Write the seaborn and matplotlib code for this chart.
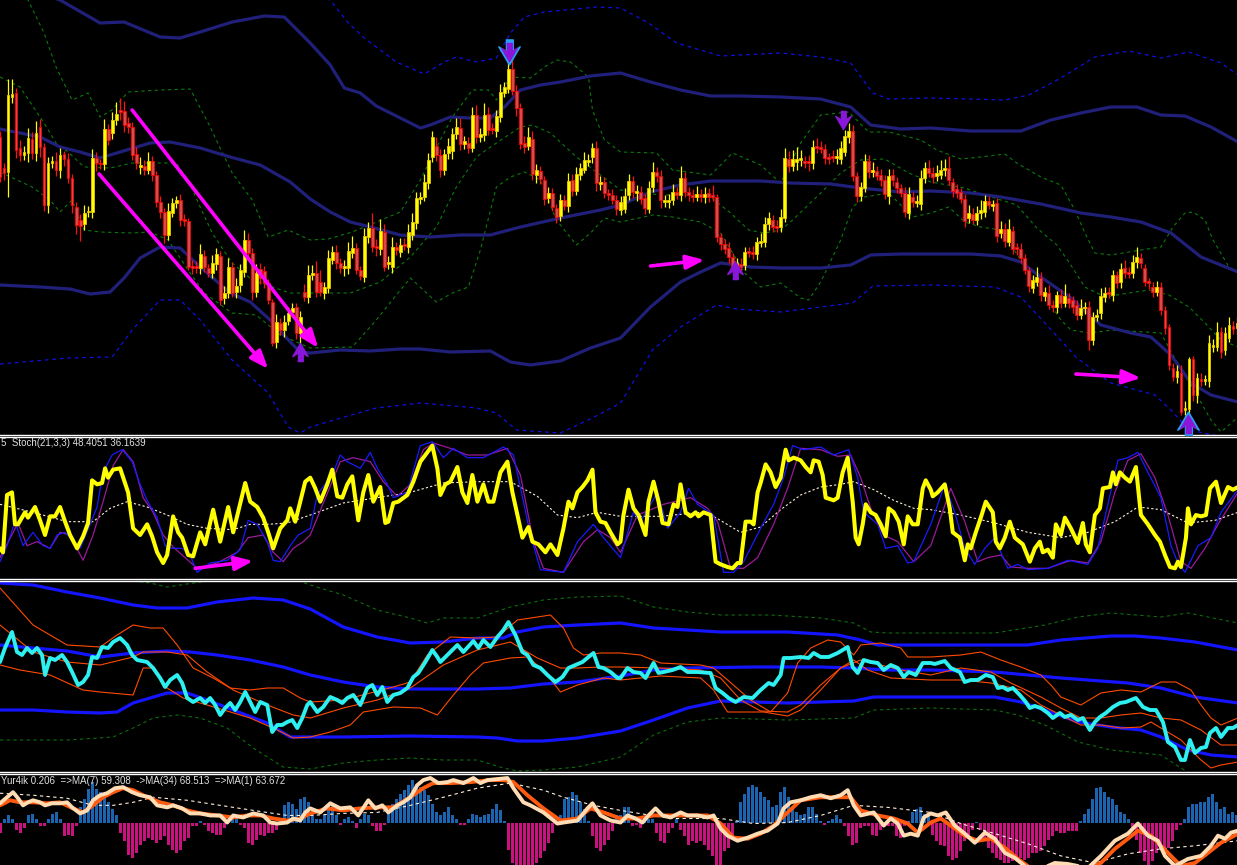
import numpy as np
import matplotlib
matplotlib.use("Agg")
import matplotlib.pyplot as plt
import seaborn as sns

# ---------------- price bars ----------------
# price given as points below the window top (bigger = lower on chart)
opens = [
    137, 168, 172, 97, 93, 148, 155, 153, 139, 153,
    127, 147, 205, 163, 161, 170, 154, 159, 178, 207,
    220, 224, 212, 212, 158, 163, 164, 129, 133, 120,
    110, 111, 123, 127, 154, 167, 166, 170, 161, 175,
    202, 212, 235, 213, 203, 200, 219, 221, 266, 266,
    268, 256, 268, 273, 264, 256, 298, 293, 267, 292,
    285, 272, 240, 253, 292, 269, 271, 283, 302, 342,
    323, 330, 321, 312, 307, 333, 292, 297, 275, 273,
    282, 293, 288, 260, 252, 263, 268, 268, 253, 248,
    270, 277, 237, 228, 246, 249, 232, 264, 267, 247,
    252, 244, 247, 235, 223, 199, 197, 183, 157, 146,
    155, 170, 153, 151, 134, 128, 144, 143, 148, 115,
    137, 135, 114, 128, 131, 117, 93, 89, 69, 91,
    108, 143, 146, 139, 175, 171, 180, 198, 193, 208,
    216, 200, 206, 180, 191, 175, 170, 162, 157, 148,
    184, 182, 193, 195, 200, 210, 209, 195, 181, 193,
    192, 198, 209, 187, 172, 176, 202, 202, 200, 192,
    195, 178, 192, 195, 197, 194, 197, 193, 195, 197,
    237, 244, 248, 257, 267, 264, 265, 251, 252, 254,
    243, 242, 224, 220, 226, 227, 218, 159, 166, 162,
    160, 161, 161, 163, 146, 147, 149, 157, 156, 158,
    159, 152, 137, 131, 176, 196, 188, 161, 172, 171,
    175, 180, 196, 175, 182, 188, 193, 213, 197, 203,
    204, 178, 168, 173, 176, 175, 170, 168, 182, 189,
    192, 199, 218, 214, 220, 213, 212, 201, 206, 203,
    233, 229, 242, 231, 247, 249, 258, 270, 288, 282,
    278, 296, 293, 305, 307, 295, 303, 298, 300, 305,
    315, 308, 307, 340, 317, 313, 297, 292, 295, 275,
    282, 268, 272, 273, 262, 258, 268, 281, 287, 292,
    287, 310, 327, 368, 377, 373, 410, 409, 359, 395,
    379, 381, 381, 347, 347, 332, 350, 338, 326, 328,
]
closes = [
    177, 173, 95, 94, 150, 155, 152, 138, 153, 133,
    147, 205, 163, 161, 170, 155, 159, 178, 205, 225,
    226, 213, 211, 158, 163, 164, 129, 140, 120, 114,
    112, 125, 127, 155, 163, 165, 170, 161, 175, 202,
    212, 235, 211, 203, 200, 220, 221, 267, 268, 268,
    254, 267, 273, 263, 254, 300, 293, 267, 293, 286,
    270, 240, 253, 292, 273, 278, 283, 300, 343, 322,
    330, 322, 313, 308, 333, 317, 297, 275, 273, 292,
    292, 287, 258, 252, 263, 268, 266, 251, 248, 270,
    276, 236, 228, 247, 248, 231, 267, 262, 247, 250,
    245, 246, 232, 222, 198, 197, 182, 160, 137, 155,
    170, 154, 146, 134, 127, 144, 141, 148, 115, 137,
    134, 115, 130, 130, 116, 92, 87, 69, 91, 108,
    144, 147, 137, 174, 170, 179, 199, 193, 207, 217,
    200, 206, 181, 191, 174, 168, 160, 160, 148, 183,
    182, 193, 195, 200, 209, 202, 196, 181, 192, 191,
    199, 208, 188, 172, 176, 200, 200, 200, 192, 195,
    178, 192, 195, 197, 194, 197, 194, 197, 197, 237,
    244, 249, 257, 267, 263, 267, 252, 253, 254, 242,
    241, 224, 218, 227, 228, 217, 158, 166, 159, 159,
    158, 163, 163, 147, 148, 149, 158, 159, 158, 156,
    148, 136, 131, 176, 196, 187, 161, 172, 170, 176,
    180, 194, 176, 180, 188, 193, 212, 194, 202, 201,
    178, 168, 173, 177, 173, 170, 168, 180, 191, 193,
    199, 221, 213, 220, 213, 210, 201, 205, 204, 236,
    229, 241, 229, 249, 249, 258, 270, 286, 280, 277,
    295, 292, 305, 307, 295, 303, 296, 303, 307, 315,
    308, 307, 340, 317, 315, 296, 293, 294, 275, 283,
    269, 273, 274, 262, 257, 263, 282, 283, 292, 287,
    310, 328, 365, 377, 371, 412, 408, 359, 395, 378,
    381, 379, 343, 345, 332, 352, 333, 325, 329, 323,
]
wick_up = [
    6, 5, 16, 15, 5, 8, 6, 10, 7, 12, 8, 4, 6, 5, 9, 7, 3, 6, 4, 5,
    6, 8, 5, 9, 6, 4, 10, 5, 8, 12, 12, 10, 6, 5, 7, 8, 6, 9, 5, 4,
    6, 4, 8, 5, 4, 6, 5, 3, 6, 5, 10, 6, 4, 8, 6, 5, 7, 9, 5, 8,
    6, 10, 7, 5, 9, 6, 5, 4, 3, 8, 5, 7, 6, 5, 4, 6, 8, 10, 8, 12,
    12, 5, 8, 6, 7, 5, 6, 9, 12, 5, 4, 8, 6, 15, 7, 12, 8, 6, 10, 5,
    7, 6, 8, 9, 6, 5, 8, 7, 6, 9, 6, 5, 8, 6, 9, 10, 5, 6, 8, 10,
    6, 12, 7, 5, 6, 8, 5, 12, 14, 6, 5, 7, 10, 8, 6, 5, 4, 6, 5, 4,
    6, 5, 8, 6, 7, 5, 8, 6, 5, 7, 6, 5, 4, 6, 5, 6, 8, 7, 5, 6,
    6, 4, 7, 10, 5, 6, 5, 6, 8, 5, 12, 6, 5, 6, 8, 5, 7, 5, 10, 3,
    4, 5, 6, 4, 5, 6, 5, 4, 6, 5, 8, 7, 6, 5, 6, 8, 10, 8, 9, 12,
    8, 5, 6, 7, 8, 6, 5, 4, 6, 7, 7, 6, 8, 6, 4, 5, 7, 6, 8, 5,
    6, 5, 7, 6, 5, 4, 6, 7, 5, 6, 8, 6, 8, 6, 8, 10, 9, 12, 4, 5,
    4, 5, 8, 6, 7, 10, 6, 5, 4, 5, 8, 6, 10, 5, 4, 6, 4, 3, 5, 10,
    6, 5, 8, 5, 4, 6, 12, 5, 4, 5, 9, 5, 6, 5, 6, 8, 6, 5, 5, 4,
    6, 8, 5, 7, 10, 5, 4, 3, 5, 6, 5, 4, 3, 5, 6, 8, 7, 2, 3, 5,
    6, 4, 8, 6, 10, 5, 6, 8, 5, 6,
]
wick_dn = [
    5, 7, 25, 6, 8, 6, 5, 9, 6, 8, 10, 6, 8, 5, 6, 8, 7, 5, 8, 9,
    15, 6, 5, 6, 8, 5, 6, 5, 6, 5, 8, 7, 6, 5, 6, 7, 5, 4, 6, 5,
    6, 8, 5, 4, 5, 6, 5, 3, 6, 5, 6, 5, 4, 5, 6, 5, 6, 5, 4, 6,
    7, 5, 6, 8, 5, 6, 5, 4, 3, 6, 5, 7, 4, 5, 6, 20, 4, 6, 5, 5,
    4, 6, 5, 4, 6, 5, 8, 6, 5, 4, 4, 5, 6, 5, 8, 6, 4, 5, 6, 5,
    5, 4, 6, 5, 6, 5, 4, 6, 5, 6, 7, 5, 6, 8, 5, 6, 5, 5, 4, 6,
    5, 6, 5, 4, 6, 5, 4, 4, 4, 8, 5, 6, 4, 6, 8, 5, 6, 5, 4, 6,
    5, 4, 6, 5, 4, 5, 3, 4, 6, 8, 6, 5, 5, 4, 6, 5, 4, 5, 6, 8,
    5, 6, 4, 5, 6, 8, 5, 6, 5, 4, 6, 5, 6, 5, 4, 5, 6, 5, 4, 5,
    6, 5, 6, 4, 5, 6, 5, 4, 5, 6, 4, 5, 6, 5, 4, 5, 4, 6, 5, 8,
    6, 5, 8, 6, 5, 4, 6, 5, 4, 6, 5, 4, 6, 5, 6, 5, 4, 6, 5, 4,
    6, 5, 8, 6, 5, 4, 5, 6, 5, 4, 6, 5, 4, 6, 5, 4, 6, 5, 6, 5,
    4, 6, 5, 4, 5, 6, 5, 4, 5, 6, 5, 6, 4, 5, 6, 5, 4, 6, 5, 4,
    6, 5, 4, 5, 6, 5, 4, 5, 6, 5, 4, 6, 10, 5, 4, 6, 5, 4, 6, 5,
    6, 5, 4, 5, 6, 5, 4, 6, 5, 4, 5, 6, 5, 4, 6, 3, 5, 14, 6, 8,
    5, 4, 6, 5, 4, 6, 5, 4, 5, 6,
]

# price channels: (bar, points below top)
band_up = [(0, -20), (7.5, -10), (15, 0), (25, 23), (31, 22), (40, 37), (45, 38), (50, 32), (58, 22), (66, 16),
           (71, 17), (77.5, 43), (82.5, 65), (86, 88), (90, 93), (94, 106), (100, 118), (105, 128), (107.5, 125),
           (112.5, 117), (117.5, 118), (122.5, 118), (126, 107), (130, 90), (135, 85), (140, 82), (147.5, 76),
           (155, 73), (162.5, 82), (170, 90), (177.5, 96), (185, 96), (195, 97), (205, 99), (212.5, 107),
           (217.5, 125), (225, 129), (232.5, 128), (242.5, 131), (255, 131), (262.5, 120), (270, 113),
           (277.5, 107), (284, 107), (290, 115), (296, 116), (302.5, 127), (309.25, 142)]
band_mid = [(0, 129), (10, 137), (15, 147), (20, 152), (25, 158), (30, 152), (37.5, 143), (42.5, 142), (50, 148),
            (57.5, 157), (65, 165), (72.5, 182), (77.5, 199), (82.5, 212), (87.5, 222), (92.5, 227), (100, 235),
            (107.5, 237), (115, 235), (122.5, 235), (130, 227), (140, 218), (150, 210), (155, 205), (162.5, 192),
            (170, 185), (177.5, 181), (190, 181), (197.5, 183), (207.5, 184), (215, 188), (225, 192), (232.5, 191),
            (242.5, 193), (250, 197), (260, 204), (270, 213), (277.5, 217), (285, 222), (292.5, 233), (300, 257),
            (309.25, 272)]
band_low = [(0, 285), (10, 287), (17.5, 289), (22.5, 294), (27.5, 292), (31, 278), (35, 258), (40, 247), (45, 248),
            (50, 267), (57.5, 293), (62.5, 302), (67.5, 320), (72.5, 342), (75, 352), (77.5, 353), (85, 350),
            (92.5, 351), (100, 349), (105, 349), (112.5, 352), (122.5, 351), (127.5, 362), (132.5, 365), (140, 361),
            (147.5, 348), (155, 338), (162.5, 307), (170, 282), (175, 272), (180, 263), (187.5, 267), (195, 268),
            (205, 268), (212.5, 265), (217.5, 255), (225, 254), (242.5, 254), (250, 256), (255, 262), (260, 277),
            (267.5, 298), (275, 325), (282.5, 333), (287.5, 337), (292.5, 355), (297.5, 383), (302.5, 395),
            (309.25, 402)]
dev_up = [(0, -30), (50, -20), (75, -8), (82.5, 0), (87, 23), (91, 38), (99, 62), (106, 74), (111, 62), (114, 57),
          (119, 62), (124, 58), (127.5, 33), (131, 17), (136, 12), (149, 7), (155, 8), (162, 23), (169, 43),
          (177.5, 53), (180, 56), (195, 53), (205, 57), (212.5, 63), (218, 93), (222, 99), (232.5, 98), (251, 100),
          (257, 95), (265, 78), (273.5, 57), (282, 51), (290, 58), (297, 52), (305, 63), (309.25, 75)]
dev_low = [(0, 364), (17, 358), (28, 357), (33, 330), (40, 300), (45, 300), (50, 320), (58, 360), (67, 393),
           (72, 427), (75, 433), (77.5, 427), (86, 417), (94, 408), (105, 403), (119, 408), (124, 413), (129, 430),
           (140, 433), (148, 418), (155, 403), (163, 350), (170, 327), (179, 305), (184, 309), (195, 312),
           (213, 303), (218, 286), (232.5, 285), (248.5, 287), (255, 297), (261, 323), (269, 358), (277.5, 383),
           (288.5, 395), (292.5, 410), (297, 430), (309.25, 440)]
bb_up = [(0, -20), (7, 0), (11, 33), (14, 67), (18, 100), (22, 93), (25, 117), (28, 110), (32, 92), (40, 90),
         (47.5, 89), (52, 123), (58, 173), (63, 200), (67, 237), (72, 230), (77.5, 240), (82, 239), (88, 232),
         (94, 222), (100, 212), (105, 180), (110, 140), (113, 117), (118, 90), (122, 90), (124, 100), (127.5, 77),
         (132.5, 78), (136, 67), (139, 60), (142.5, 62), (147, 77), (148, 110), (151, 140), (155, 152), (164, 153),
         (168, 170), (177.5, 175), (183, 153), (190, 165), (195, 183), (200, 143), (205, 115), (212, 112),
         (217, 132), (222, 132), (230, 140), (234, 150), (240, 159), (245, 157), (251, 154), (254, 163), (260, 177),
         (265, 185), (268.5, 210), (271, 233), (273.5, 253), (277.5, 255), (285, 250), (290, 247), (293, 227),
         (296, 213), (298, 212), (301, 220), (303, 240), (307, 267), (309.25, 273)]
bb_mid = [(0, 77), (5, 87), (11, 123), (14, 143), (17, 152), (21, 167), (27.5, 168), (33, 163), (44, 163), (47, 180),
          (50, 207), (53, 233), (58, 263), (63, 280), (68, 287), (72.5, 293), (87.5, 293), (95, 282), (102.5, 257),
          (109, 227), (114, 187), (119, 157), (122.5, 147), (130, 127), (133, 125), (137.5, 133), (144, 157),
          (150, 175), (155, 190), (165, 195), (175, 195), (177.5, 197), (182.5, 213), (187, 230), (191, 233),
          (195, 230), (198, 220), (205, 193), (210, 173), (215, 160), (221, 159), (227, 173), (232.5, 182),
          (241, 188), (246, 195), (250, 200), (254, 205), (259, 228), (264, 245), (267, 262), (271, 287),
          (276, 297), (282, 293), (287, 290), (292, 295), (297, 307), (301, 323), (305, 340), (309.25, 347)]
bb_low = [(0, 172), (8, 187), (12.5, 200), (15, 212), (18, 200), (21, 230), (25, 232), (33, 233), (37.5, 232),
          (42, 240), (47, 270), (51, 293), (58, 313), (64, 315), (70, 335), (77.5, 348), (88, 347), (94, 320),
          (99, 295), (102.5, 278), (109, 302), (113, 293), (117, 287), (120, 250), (124, 187), (127.5, 177),
          (131, 172), (135, 180), (139, 220), (144, 245), (147.5, 233), (151, 218), (155, 222), (163, 215),
          (168, 217), (175, 222), (180, 233), (186, 273), (190, 287), (195, 283), (200, 298), (202, 300), (205, 282),
          (210, 240), (213, 207), (216, 197), (222, 193), (228, 217), (232.5, 213), (237, 207), (241, 222),
          (245, 227), (250, 230), (255, 260), (260, 290), (265, 320), (267.5, 330), (272, 333), (278, 330),
          (290, 333), (293, 355), (297.5, 385), (302.5, 420), (305, 432), (309.25, 417)]
sig_dn_bar, sig_dn_pts = [127.25, 210.5], [52, 120]
sig_up_bar, sig_up_pts = [75, 183.5, 296.75], [352, 270, 424]

# ---------------- Stoch(21,3,3) ----------------
stoch_main = [(0, 20), (0.75, 17), (1.75, 60), (3, 62), (3.75, 38), (4.5, 38), (6.25, 47), (7, 43), (8.75, 51),
              (10, 41), (11.25, 30), (12.5, 44), (13.75, 44), (15, 51), (16.25, 40), (17.5, 30), (19.25, 20),
              (20.75, 29), (22, 39), (23, 71), (24.25, 68), (25.5, 69), (26.25, 80), (27, 73), (28.25, 79), (30, 80),
              (32, 62), (33.25, 35), (35, 30), (36.75, 38), (38, 29), (39.25, 17), (40.75, 9), (41.75, 15),
              (43.25, 44), (44.5, 32), (45.5, 28), (47, 15), (48.25, 14), (50, 32), (51.25, 23), (53.25, 49),
              (55, 25), (57, 51), (58.25, 32), (61.25, 69), (62.5, 55), (64.25, 51), (65.75, 43), (67, 32),
              (68.25, 20), (70, 35), (71.75, 41), (72.5, 50), (73.75, 40), (75, 55), (76.25, 70), (77.5, 73),
              (78.75, 65), (80, 55), (81.75, 68), (83, 79), (84.25, 59), (85.5, 58), (86.75, 68), (88, 74),
              (89.5, 41), (90.75, 62), (92, 75), (93.25, 55), (95, 66), (96.25, 39), (97, 40), (98.25, 54),
              (99.5, 55), (101.75, 60), (103.25, 70), (105, 85), (106.25, 90), (108, 97), (109.25, 80), (110, 60),
              (111.25, 68), (112.5, 70), (114.25, 81), (115.5, 62), (116.75, 54), (118, 75), (119.25, 55),
              (120.75, 68), (122, 55), (123.25, 55), (125, 77), (126.75, 85), (128, 62), (129.25, 45), (130.5, 28),
              (132, 36), (133, 25), (134.5, 23), (136.25, 17), (137.5, 23), (139.25, 15), (140.75, 35), (142, 55),
              (143, 50), (144.25, 62), (145.5, 66), (146.75, 71), (148, 79), (148.75, 47), (150, 40), (151.25, 39),
              (152.5, 32), (154.25, 23), (155, 25), (155.75, 45), (157, 64), (158.25, 50), (159.5, 45), (161.25, 30),
              (162, 55), (163.25, 70), (164.5, 55), (165.5, 39), (167, 38), (168.25, 53), (169.25, 51), (170, 68),
              (171.25, 47), (172.5, 44), (173.75, 47), (174.5, 44), (175.75, 47), (177.5, 45), (178.75, 10),
              (180, 8), (181.75, 6), (183, 5), (184.25, 9), (185, 9), (186.25, 40), (187.5, 40), (188.25, 38),
              (189.25, 62), (190, 69), (191.25, 83), (192.5, 77), (193.75, 66), (195, 73), (196.25, 94), (197, 86),
              (198.25, 88), (200, 86), (201.25, 81), (202.5, 77), (203.25, 86), (204.5, 85), (205.5, 75),
              (206.25, 58), (208.25, 56), (209.25, 58), (210.5, 77), (211.75, 88), (213, 55), (213.75, 28),
              (214.5, 23), (215.5, 38), (216.25, 53), (217.5, 47), (218.75, 45), (220, 38), (221.25, 29), (222, 50),
              (223.25, 47), (224.5, 40), (225.75, 23), (226.75, 44), (228, 38), (229.25, 38), (230.5, 65),
              (231.25, 71), (232.5, 64), (233, 59), (234.25, 62), (236, 68), (237.25, 50), (238, 32), (239.75, 28),
              (241, 11), (241.75, 23), (242.5, 20), (243.75, 32), (245, 43), (246.25, 55), (248, 47), (248.75, 25),
              (249.75, 20), (251, 28), (252.25, 40), (253.5, 28), (255.5, 23), (257.25, 10), (258.5, 20),
              (259.75, 25), (260.5, 17), (261.75, 19), (263, 13), (263.75, 38), (265, 30), (266, 43), (267.5, 35),
              (269.25, 24), (270.5, 39), (271.25, 23), (272.25, 17), (273.5, 45), (274.75, 50), (275.5, 65),
              (277.25, 66), (278, 77), (278.75, 68), (279.75, 77), (281, 73), (282.25, 70), (283.75, 81), (285, 45),
              (286.75, 38), (288.5, 30), (289.75, 25), (291, 15), (292.25, 6), (293.5, 5), (294.25, 10), (295, 6),
              (296.25, 28), (296.75, 50), (297.5, 38), (298.75, 45), (300, 44), (301.25, 45), (302.25, 65),
              (303.75, 70), (305, 54), (306.75, 66), (308, 64), (309.25, 66)]
stoch_k = [(0, 10), (1.75, 22), (3.75, 40), (5.75, 22), (8.25, 32), (10.75, 22), (12.5, 20), (14.25, 30), (16.25, 32),
           (20, 20), (22.5, 38), (24.25, 51), (25.75, 77), (28, 90), (30.5, 94), (33, 85), (35, 68), (36.75, 56),
           (39.25, 43), (41.25, 22), (43, 20), (45.5, 20), (47.5, 15), (49.25, 2), (52.5, 9), (56.75, 11), (60, 19),
           (62, 41), (64.25, 38), (66.75, 25), (68.25, 11), (70, 10), (72.5, 22), (74.5, 30), (77.5, 35),
           (79.25, 60), (83.25, 77), (85, 90), (86.75, 85), (90, 80), (92.5, 92), (94.25, 80), (96.75, 68),
           (98.25, 58), (101.75, 62), (105, 97), (108, 100), (110.75, 88), (113.25, 95), (116.75, 88), (120.75, 88),
           (125.75, 96), (128.25, 90), (130.75, 55), (132.5, 30), (135, 4), (140.75, 2), (144.25, 25),
           (148.25, 38), (150.75, 28), (155, 13), (158.25, 47), (160, 40), (164.25, 62), (166.75, 35), (170, 47),
           (172, 65), (174.25, 53), (178.25, 45), (180.75, 2), (183.25, 2), (185.75, 10), (190, 35), (193.25, 53),
           (195.75, 73), (198, 97), (200.75, 94), (205, 96), (208.25, 90), (212, 94), (214.25, 73), (215.75, 47),
           (219.25, 38), (221.25, 20), (224.25, 22), (226.75, 9), (228.25, 10), (232.5, 38), (236, 68),
           (238.5, 47), (241, 20), (243.5, 8), (246, 20), (248.5, 28), (250, 17), (251.75, 5), (254.25, 8),
           (256.75, 4), (261.75, 5), (266.75, 11), (271.75, 8), (274.25, 20), (276.75, 53), (279.25, 86),
           (281.75, 88), (284.25, 92), (286.75, 77), (290, 58), (292.5, 22), (294.25, 9), (296, 2), (299.25, 22),
           (302.5, 28), (305, 47), (309.25, 64)]
stoch_d = [(0, 13), (4.5, 39), (6.75, 22), (9.25, 25), (12.5, 20), (15, 32), (17.5, 30), (20.75, 11), (23.25, 30),
           (25.75, 55), (28.25, 82), (30.75, 94), (33.25, 85), (35.75, 58), (38.25, 47), (40.75, 30), (43.25, 21),
           (49.25, 5), (54.25, 9), (59.25, 17), (62, 28), (65.75, 30), (68.25, 17), (70.75, 10), (73.25, 20),
           (75.75, 25), (77.5, 30), (85, 85), (88.25, 88), (92.5, 85), (95.75, 70), (99.25, 59), (102.5, 68),
           (105.75, 94), (108.25, 99), (112.5, 95), (116.75, 90), (121.75, 90), (126.75, 95), (130, 75),
           (133.25, 25), (135.75, 5), (140.75, 2), (145.75, 25), (149.25, 34), (152.5, 28), (155, 17),
           (159.25, 45), (165.75, 53), (172.5, 58), (176.75, 50), (179.25, 40), (182.5, 5), (185.75, 5),
           (189.25, 13), (193.25, 38), (196.75, 65), (200, 95), (205, 94), (209.25, 89), (212.5, 90), (215, 73),
           (217.5, 50), (220.75, 30), (224.25, 25), (228.25, 10), (232.5, 22), (237.5, 65), (241, 40),
           (244.25, 10), (246.75, 13), (250, 15), (252.5, 6), (256.75, 5), (261.75, 5), (267.5, 11), (271.75, 9),
           (275, 25), (278.5, 62), (281.75, 86), (285, 91), (288.5, 73), (291.75, 45), (295, 10), (297.5, 5),
           (301, 20), (304.25, 38), (309.25, 62)]
stoch_slow = [(0, 53), (8.25, 47), (16.75, 40), (23.25, 40), (27.5, 50), (31.75, 55), (36.75, 51), (41.75, 45),
              (46.75, 38), (51.75, 35), (58.25, 34), (62.5, 38), (66.75, 38), (71.75, 39), (77.5, 45), (85.75, 54),
              (94.25, 58), (102.5, 62), (110.75, 69), (119.25, 70), (127.5, 70), (134.25, 59), (139.25, 45),
              (144.25, 43), (149.25, 47), (155, 44), (165, 44), (175, 47), (178.25, 44), (185, 32), (190, 36),
              (195, 49), (200, 60), (205, 66), (210, 68), (213.25, 70), (218.25, 64), (223.25, 56), (228.25, 50),
              (232.5, 49), (240, 45), (248.5, 39), (256.75, 32), (265, 28), (271.75, 32), (278.5, 40), (284.25, 51),
              (290, 49), (296.75, 39), (303.5, 41), (309.25, 47)]

# ---------------- oscillator window ----------------
osc_main = [(0, 54.5), (1.25, 61.5), (3, 69.5), (4.25, 59.5), (5.5, 58), (6.75, 61.5), (8, 59), (9.25, 61.5),
            (10.5, 58), (11.25, 48), (12.5, 56.5), (13.75, 55.5), (15.5, 58), (16.75, 54.5), (18, 49.5), (19.5, 43),
            (20.75, 44.5), (22, 48), (23, 57), (24.25, 56.5), (25.5, 62), (27, 61.5), (28.25, 64.5), (30, 66.5),
            (31.75, 63), (33, 58), (34.25, 55.5), (36.75, 54.5), (38.25, 51.5), (40, 46.5), (41.25, 42),
            (42.5, 45.5), (44.25, 48), (45.5, 44), (46.75, 36.5), (48.25, 34.5), (50, 36.5), (51.25, 34),
            (52.5, 36.5), (53.75, 33), (55, 28), (56.25, 31.5), (57.5, 34), (58.75, 30.5), (60, 34.5),
            (61.25, 39.5), (62.5, 34.5), (63.75, 29.5), (65, 34.5), (66.75, 33), (68, 19.5), (69.25, 23),
            (70.5, 23), (71.75, 24.5), (73, 25.5), (74.25, 21.5), (75.5, 26.5), (76.75, 33), (77.5, 34.5),
            (79.25, 29.5), (80.75, 32), (82.5, 37), (84.25, 35.5), (85.5, 34), (86.75, 36.5), (88.25, 38), (90, 33),
            (91.75, 41.5), (93, 43), (94.25, 38), (95.5, 42), (96.75, 34.5), (98.25, 38), (100, 39), (101.75, 41.5),
            (103.25, 47), (104.5, 49), (106.25, 54.5), (108, 60.5), (109.25, 57), (110, 54.5), (111.75, 58),
            (114.25, 63), (115.75, 59.5), (118.25, 65), (119.5, 61.5), (120.75, 65.5), (122.5, 62), (124.25, 67),
            (125.75, 70.5), (127, 74.5), (128.75, 68), (130.5, 59.5), (131.75, 58), (133.25, 53), (135, 51.5),
            (136.75, 48), (138.75, 44.5), (140.5, 47), (142, 51.5), (143.75, 53), (145.5, 54.5), (147, 57),
            (148.25, 59), (149.5, 52), (150.75, 51.5), (152.5, 49.5), (154.25, 46.5), (155, 46.5), (156.75, 51.5),
            (158.25, 49.5), (160, 49), (161.25, 46.5), (163.25, 54), (164.5, 49), (165.75, 49.5), (168, 50.5),
            (170, 52), (171.75, 49.5), (174.25, 49.5), (177.5, 49), (178.75, 41.5), (180.5, 39), (182, 36.5),
            (183.75, 34.5), (185.75, 37), (188, 36.5), (190, 40.5), (192, 44), (193.25, 43), (195, 48),
            (195.75, 56.5), (197.5, 56.5), (200, 57), (202, 56.5), (203.25, 59), (205, 57), (207, 57),
            (209.25, 59), (211.75, 62), (213, 52), (214.25, 49), (215.75, 55.5), (217.5, 54.5), (219.25, 54),
            (220.75, 50.5), (222.5, 53), (224.25, 51.5), (225.75, 47), (227, 49.5), (228.75, 48), (230.5, 54),
            (232.5, 54), (233.5, 53.5), (236, 55), (237.5, 51.5), (239.75, 49.5), (241, 44.5), (242.5, 45.5),
            (244.25, 45.5), (246.25, 48), (248, 47), (249.25, 41.5), (250.5, 42), (251.75, 40.5), (253, 41.5),
            (254.75, 38), (256.25, 34.5), (257.25, 31.5), (258.5, 32.5), (260, 31.5), (261.75, 29), (263, 26.5),
            (264.75, 29), (266, 27), (267.5, 28), (269.25, 25.5), (270.5, 26.5), (272.25, 20.5), (273.5, 24.5),
            (274.75, 27), (276.25, 29), (278, 32), (279.75, 34), (281.25, 34.5), (283.75, 36.5), (285.5, 32),
            (287.25, 30.5), (288.75, 30.5), (290.5, 24.5), (291.75, 14.5), (293.5, 12), (295, 5.5), (296, 5.5),
            (297.25, 15.5), (298.5, 9), (300, 11.5), (301.25, 12), (302.25, 19), (303.75, 21.5), (305, 17),
            (306.75, 21.5), (308, 21.5), (309.25, 23)]
osc_band_up = [(0, 94), (8.25, 93), (16.75, 89.5), (25, 86.5), (33.25, 83), (39.25, 81.5), (46.75, 81.5),
               (54.25, 84.5), (63.25, 86.5), (70.75, 85.5), (77.5, 81), (85.75, 72), (94.25, 67), (102.5, 64),
               (110.75, 64.5), (119.25, 66.5), (125.75, 66.5), (129.25, 69.5), (135.75, 72), (144.25, 73),
               (155, 74), (163.25, 71.5), (171.75, 70.5), (180, 69.5), (196.75, 69.5), (209.25, 68), (215, 65.5),
               (219.25, 63), (232.5, 63), (256.75, 63), (265, 65.5), (277.5, 67.5), (283.5, 67.5), (290, 66.5),
               (298.5, 64.5), (309.25, 60.5)]
osc_band_mid = [(0, 63), (8.25, 61.5), (16.75, 60), (25, 57), (33.25, 59), (41.75, 60), (47.5, 59.5), (54.25, 58),
                (62.5, 55.5), (70.75, 52), (77.5, 48), (85.75, 44.5), (94.25, 42), (102.5, 41), (119.25, 41),
                (127.5, 41.5), (135.75, 43.5), (144.25, 44.5), (155, 47.5), (163.25, 50.5), (171.75, 51.5),
                (188.25, 52), (205, 52), (213.25, 51.5), (221.75, 50.5), (232.5, 50.5), (248.5, 49.5), (265, 46.5),
                (281.75, 44), (290, 41.5), (298.5, 37), (309.25, 34)]
osc_band_low = [(0, 30.5), (8.25, 30.5), (16.75, 29.5), (25, 29), (29.25, 29.5), (33.25, 34), (37.5, 36.5),
                (41.75, 39), (46.75, 39), (51.75, 35.5), (58.25, 30.5), (66.75, 24), (72.5, 17), (85.75, 17),
                (102.5, 17.5), (119.25, 17), (124.25, 16.5), (129.25, 15), (135.75, 15), (144.25, 16.5), (155, 20),
                (163.25, 25.5), (171.75, 31.5), (180, 35), (196.75, 34), (213.25, 35), (218.25, 37), (248.5, 37),
                (255, 34.5), (261, 30.5), (269.25, 24.5), (277.5, 22), (285, 20.5), (290, 17), (296.75, 10.5),
                (302.5, 8), (309.25, 7)]
osc_env_up = [(0, 100.5), (25, 97), (37.5, 94), (41.75, 92), (50, 94.5), (62.5, 97.5), (72.5, 96.5), (77.5, 93),
              (85.75, 88), (94.25, 80.5), (102.5, 76.5), (106.75, 74), (110.75, 76.5), (119.25, 76.5), (127.5, 82),
              (135.75, 85.5), (144.25, 87), (155, 87.5), (163.25, 82), (171.75, 79.5), (180, 78), (192.5, 78),
              (205, 76.5), (213.25, 74), (217.5, 69.5), (221.75, 69), (248.5, 69), (261, 73), (269.25, 77),
              (277.5, 79), (290, 77), (296.75, 79), (309.25, 74)]
osc_env_low = [(0, 15.5), (16.75, 15.5), (28.25, 17), (33.25, 21.5), (38.25, 26.5), (44.25, 28), (50, 26.5),
               (56.75, 21.5), (63.25, 11.5), (70.75, 2), (77.5, 1), (85.75, 4), (94.25, 5.5), (102.5, 6.5),
               (110.75, 5.5), (119.25, 5.5), (125.75, 1.5), (129.25, 0), (135.75, 0.5), (144.25, 2), (155, 7),
               (163.25, 18), (171.75, 24.5), (180, 26.5), (196.75, 25.5), (213.25, 26.5), (218.25, 30.5),
               (232.5, 31.5), (248.5, 30.5), (254.25, 28), (261, 23), (269.25, 14.5), (277.5, 10.5), (290, 8),
               (295, 1.5), (300, -4.5), (309.25, -9.5)]
osc_ma1 = [(0, 91.5), (8.25, 73), (16.75, 63), (25, 62), (29.25, 68), (33.25, 73), (37.5, 71.5), (40.75, 71.5),
           (44.25, 63), (48.25, 51.5), (53.25, 46.5), (57.5, 41.5), (62.5, 40.5), (66.75, 41.5), (70.75, 41.5),
           (75, 36.5), (77.5, 34.5), (85.75, 35.5), (98.25, 42), (102.5, 44.5), (106.75, 58), (112.5, 67),
           (119.25, 66.5), (124.25, 67), (129.25, 75.5), (137.5, 78), (140.75, 71.5), (143.25, 61.5), (145.75, 58),
           (150, 59), (155, 59), (160, 58), (165, 54), (175, 53), (178.25, 51.5), (181.75, 45.5), (187.5, 35.5),
           (192.5, 29.5), (196.75, 39), (199.25, 54), (202.5, 61.5), (206.75, 65.5), (210, 64.5), (213.25, 58),
           (215, 63), (220, 64), (225, 61.5), (226.75, 57), (232.5, 57), (240, 58), (245, 59.5), (250, 55.5),
           (255, 52), (260, 48), (262.5, 43), (265, 37), (270, 33), (275, 39), (280, 40.5), (285, 39.5),
           (290, 44.5), (293.75, 44.5), (297.5, 40.5), (300, 33), (302.5, 26.5), (305, 23), (309.25, 26.5)]
osc_ma2 = [(0, 73), (8.25, 59.5), (16.75, 54.5), (25, 53), (33.25, 57), (35.75, 59.5), (41.75, 59.5), (46.75, 58),
           (51.75, 49.5), (58.25, 40.5), (66.75, 33), (73.25, 28), (77.5, 26.5), (85.75, 31.5), (94.25, 35.5),
           (102.5, 41.5), (110.75, 53), (119.25, 60.5), (127.5, 64.5), (134.25, 56.5), (140, 51.5), (144.25, 51.5),
           (150, 52), (155, 52), (165, 51.5), (175, 50.5), (180, 46.5), (185, 35.5), (190, 30), (196.75, 29.5),
           (200, 33), (205, 43), (210, 51.5), (215, 55.5), (220, 53), (225, 50.5), (232.5, 48), (240, 51.5),
           (247.5, 49.5), (252.5, 44), (260, 37), (265, 31.5), (270, 26.5), (275, 26.5), (280, 28), (285, 29),
           (290, 26.5), (295, 25.5), (300, 20.5), (305, 13), (309.25, 13)]
osc_ma3 = [(0, 53), (5, 50.5), (12.5, 48), (20.75, 40.5), (25, 39.5), (33.25, 38), (35.75, 51.5), (38.25, 51.5),
           (41.75, 41.5), (45.75, 36.5), (54.25, 31.5), (62.5, 26.5), (69.25, 20.5), (73.25, 16.5), (77.5, 17),
           (82.5, 19.5), (87.5, 23), (90.75, 29.5), (98.25, 32), (105, 31.5), (109.25, 28), (113.25, 38),
           (117.5, 48), (120.75, 54), (127.5, 56.5), (131.75, 57), (135.75, 50.5), (140, 39.5), (144.25, 43),
           (150.75, 46.5), (155, 45.5), (165, 47.5), (175, 46.5), (178.25, 40.5), (181.75, 29.5), (190.75, 29.5),
           (196.75, 27.5), (200, 30.5), (205, 40.5), (210, 51.5), (213.25, 55.5), (216.75, 50.5), (222.5, 46.5),
           (232.5, 45.5), (240, 45.5), (247.5, 44), (255, 40.5), (260, 33), (265, 28), (270, 23), (275, 23),
           (280, 21.5), (285, 22), (287.5, 24.5), (290, 21.5), (295, 15.5), (300, 5.5), (302.5, 1.5), (305, 3),
           (309.25, 4.5)]

# ---------------- Yur4ik window ----------------
hist = [
    -10, 3, 7, 3, -7, -10, -5, 7, 8, 3, -3, -3, 3, 8, 10, 3, -13, -12, -13, -3,
    15, 23, 33, 40, 33, 30, 25, 20, 13, 7, -10, -18, -32, -35, -30, -22, -18, -15, -17, -20,
    -17, -13, -22, -27, -30, -27, -18, -15, -3, -3, 2, -2, -8, -10, -12, -12, -5, 3, 3, 3,
    -2, -5, -20, -22, -17, -12, -13, -10, -10, -7, 3, 17, 20, 18, 13, 23, 25, 20,
    10, 3, 3, 7, 18, 17, 7, -2, 3, 5, 2, -5, 3, 8, 7, -3, -8, -8, -2, 12,
    18, 23, 28, 32, 37, 42, 38, 35, 32, 27, 18, 10, 7, 10, 15, 7, 3, -2, -2, 3,
    8, 7, 5, 7, 8, 13, 18, 12, 2, -27, -40, -43, -43, -43, -43, -42, -40, -35, -28, -20,
    -10, -2, 7, 23, 25, 30, 27, 20, 13, 2, -13, -25, -28, -22, -17, -8, 7,
    7, 15, 15, -3, -2, -5, 3, 3, 3, -10, -18, -20, -10, -5, 3, -7, -13, -22, -18, -20,
    -18, -22, -27, -33, -43, -43, -28, -25, -15, 2, 20, 28, 35, 37, 35, 30, 25, 22, 15, 17,
    30, 35, 25, 15, 10, 7, 8, 15, 15, 8, 2, -2, 2, 3, 7, 3, -3, -13, -22, -20,
    -5, -3, -3, -12, -13, -7, -2, -3, -3, -13, -15, -3, 2, 10, 13, 15, 8, 7,
    -12, -18, -22, -23, -33, -37, -35, -28, -18, -12, -7, 1, -7, -17, -25, -30, -35, -37, -40, -40,
    -38, -37, -35, -37, -35, -30, -30, -28, -23, -17, -13, -8, -10, -10, -8, -8, -8, 2, 8, 13,
    23, 34, 35, 30, 25, 23, 17, 10, 8, 3, -5, -17, -30, -38, -42, -38, -30, -23, -30, -25,
    -18, -7, -2, 3, 15, 18, 18, 20, 20, 25, 28, 20, 13, 15, 8, 10, 7,
]
yur_fast = [(0, 62), (3.25, 73), (4.5, 67), (5.75, 60), (7, 63), (8.25, 65), (10, 63), (11.25, 60), (13, 62), (15, 62),
            (16.75, 63), (18, 58), (20, 52), (21.75, 55), (23.25, 65), (25, 70), (26.75, 72), (28.75, 77),
            (30.75, 78), (33, 73), (35, 70), (37.5, 68), (39.25, 60), (41.75, 58), (43.25, 60), (45.5, 57),
            (47.5, 52), (50, 52), (52.5, 50), (55, 50), (56.75, 43), (58.25, 50), (60.75, 48), (63.25, 52),
            (65.75, 50), (67.5, 43), (69.25, 42), (71.75, 43), (73.25, 47), (75, 45), (76.25, 53), (77.5, 57),
            (80, 53), (82.5, 62), (85, 57), (87.5, 58), (89.5, 50), (92, 65), (93.75, 57), (95.5, 60), (97, 53),
            (99.25, 60), (100.75, 63), (102.5, 68), (104.25, 80), (105.75, 85), (107.5, 87), (109.5, 82),
            (111.75, 83), (113.25, 85), (115.75, 82), (118.25, 87), (120, 82), (121.75, 85), (124.25, 86),
            (126.75, 87), (128.25, 77), (130.75, 63), (132.5, 60), (135.75, 53), (139.25, 42), (140.75, 43),
            (144.25, 45), (146.75, 57), (148, 62), (150, 50), (152.5, 45), (155, 43), (156.75, 50), (158.75, 47),
            (160.5, 43), (162, 50), (163.75, 57), (165.5, 50), (167.5, 48), (170, 53), (171.75, 50), (174.25, 50),
            (176.75, 48), (178.25, 50), (180, 37), (181.75, 30), (184.25, 25), (186.75, 28), (189.25, 32),
            (191.75, 35), (194.25, 42), (195.75, 57), (197.5, 63), (200, 65), (202.5, 68), (205, 70), (207.5, 67),
            (210, 70), (211.75, 75), (213.25, 60), (215, 50), (218.25, 53), (220.75, 40), (222.5, 47),
            (224.25, 42), (225.75, 30), (227.5, 32), (229.25, 30), (230.75, 48), (232.5, 52), (234.25, 50),
            (236.25, 53), (238.5, 40), (241, 32), (243.5, 23), (246, 33), (248.5, 27), (251, 13), (253.5, 8),
            (256, 0), (260, -3), (263.5, 3), (266.75, 2), (271.75, -2), (275, 10), (278.5, 25), (281.75, 32),
            (284.25, 42), (286.75, 30), (289.25, 25), (291, 10), (293.5, 0), (296.75, 7), (300, 10), (302.5, 20),
            (304.25, 30), (306, 27), (307.5, 33), (309.25, 35)]
yur_slow = [(0, 60), (2.5, 65), (5, 63), (8.25, 63), (11.75, 62), (15, 63), (18.25, 57), (20.75, 53), (23.25, 60),
            (25.75, 68), (28.25, 73), (30.75, 77), (33.25, 75), (36.75, 68), (40, 63), (43.25, 60), (46.75, 55),
            (50, 52), (54.25, 50), (58.25, 48), (61.75, 50), (65, 50), (68.25, 47), (71.75, 45), (75, 47),
            (77.5, 52), (81.75, 57), (85.75, 55), (90, 57), (94.25, 58), (98.25, 58), (102.5, 68), (105.75, 77),
            (108.25, 82), (112.5, 82), (117.5, 83), (122.5, 85), (125.75, 85), (128.25, 83), (131.75, 70),
            (135.75, 57), (140, 45), (144.25, 47), (147.5, 57), (150.75, 53), (155, 47), (159.25, 47), (163.25, 50),
            (167.5, 50), (171.75, 50), (176.75, 50), (180, 42), (183.25, 28), (186.75, 27), (190, 32), (193.25, 40),
            (196.75, 53), (200, 65), (205, 68), (209.25, 68), (212.5, 68), (215, 55), (219.25, 50), (223.25, 47),
            (226.75, 42), (229.25, 33), (232.5, 43), (235, 47), (237.5, 40), (241, 30), (244.25, 25), (247.5, 27),
            (251, 18), (254.25, 7), (256.75, 0), (262.5, -7), (268.75, -7), (275, 3), (278.5, 17), (281.75, 27),
            (284.25, 35), (287.5, 30), (291.75, 13), (295, 0), (298.5, 3), (301.75, 13), (305, 23), (309.25, 32)]
yur_signal = [(0, 72), (8.25, 70), (16.75, 67), (23.25, 60), (28.25, 60), (33.25, 63), (38.25, 68), (46.75, 65),
              (55, 60), (63.25, 55), (71.75, 50), (77.5, 50), (85.75, 52), (94.25, 53), (102.5, 60), (110.75, 68),
              (119.25, 77), (127.5, 82), (135.75, 75), (140.75, 68), (148.25, 60), (155, 55), (167.5, 47),
              (180, 47), (188.25, 42), (196.75, 43), (205, 50), (213.25, 60), (221.75, 58), (232.5, 53), (240, 42),
              (248.5, 32), (256.75, 22), (265, 10), (273.5, 3), (281.75, 12), (290, 17), (298.5, 20), (309.25, 25)]

# ---------------- drawing ----------------
sns.set_theme(style="dark", rc={"axes.facecolor": "black", "figure.facecolor": "black"})
plt.rcParams["font.family"] = ["Liberation Sans", "DejaVu Sans"]

W, H = 1237, 865
fig = plt.figure(figsize=(W / 100, H / 100), dpi=100, facecolor="black")
n_bars = len(opens)


def panel(top, bottom):
    ax = fig.add_axes([0, 1 - bottom / H, 1, (bottom - top) / H])
    ax.set_facecolor("black")
    ax.set_xticks([])
    ax.set_yticks([])
    ax.grid(False)
    for side, sp in ax.spines.items():
        sp.set_color("white")
        sp.set_linewidth(1)
        sp.set_visible(side in ("top", "bottom"))
    ax.set_xlim(0, (W - 1) / 4)
    return ax


def draw(ax, pts, color, lw, ls="-"):
    xs = [p[0] for p in pts]
    ys = [p[1] for p in pts]
    sns.lineplot(x=xs, y=ys, ax=ax, color=color, linewidth=lw, linestyle=ls,
                 estimator=None, sort=False, legend=False)


ax1 = panel(0, 435)
ax1.spines["top"].set_visible(False)
ax2 = panel(437, 579)
ax3 = panel(581, 772)
ax4 = panel(774, 866)
ax4.spines["bottom"].set_visible(False)

# --- price window
ax1.set_ylim(435, 0)
for pts in (dev_up, dev_low):
    draw(ax1, pts, "#1010e0", 0.9, (0, (3, 3)))
for pts in (bb_up, bb_mid, bb_low):
    draw(ax1, pts, "#0b7a0b", 0.8, (0, (3, 3)))
for pts in (band_up, band_mid, band_low):
    draw(ax1, pts, "#20207a", 2.3)

o = np.array(opens)
c = np.array(closes)
idx = np.arange(n_bars)
bull = c < o
top = np.minimum(o, c)
bot = np.maximum(o, c)
hi = top - np.array(wick_up)
lo = bot + np.array(wick_dn)
ax1.vlines(idx, hi, lo, colors=np.where(bull, "#ffff00", "#ff1010"), linewidth=0.9, zorder=3)
ax1.bar(idx, np.maximum(bot - top, 1.2), bottom=top, width=0.72,
        color=np.where(bull, "#ffff00", "#d94a4a"),
        edgecolor=np.where(bull, "#e8c800", "#ff0000"), linewidth=0.6, zorder=4)

down = [(-0.3, 1), (0.3, 1), (0.3, 0.1), (0.85, 0.45), (0, -1), (-0.85, 0.45), (-0.3, 0.1)]
up = [(x, -y) for x, y in down]
ax1.scatter([sig_dn_bar[0]], [sig_dn_pts[0]], marker=down, s=330, color="#2a9df4", zorder=6)
ax1.scatter([sig_up_bar[2]], [sig_up_pts[2]], marker=up, s=330, color="#2a9df4", zorder=6)
ax1.scatter(sig_dn_bar, sig_dn_pts, marker=down, s=170, color="#8a16d8", zorder=7)
ax1.scatter(sig_up_bar, sig_up_pts, marker=up, s=170, color="#8a16d8", zorder=7)

arrow_from = [(33, 110), (24.75, 174), (162.5, 266), (268.75, 374)]
arrow_to = [(79.5, 348), (67, 369), (176, 260), (285, 378)]
for a, b in zip(arrow_from, arrow_to):
    ax1.annotate("", xy=b, xytext=a, zorder=8,
                 arrowprops=dict(arrowstyle="-|>,head_length=0.9,head_width=0.35", color="#ff00ff",
                                 lw=2.6, shrinkA=0, shrinkB=0))

# --- stochastic window
ax2.set_ylim(-3, 103.5)
draw(ax2, stoch_slow, "#fff0dc", 0.8, (0, (2, 2)))
draw(ax2, stoch_d, "#9a1a9a", 0.9)
draw(ax2, stoch_k, "#1a1aff", 0.9)
draw(ax2, stoch_main, "#ffff00", 2.9)
ax2.annotate("", xy=(63.25, 10.5), xytext=(48.75, 5), zorder=8,
             arrowprops=dict(arrowstyle="-|>,head_length=0.9,head_width=0.35", color="#ff00ff",
                             lw=2.6, shrinkA=0, shrinkB=0))
ax2.text(1 / W, 1 - 1.5 / 142, "5  Stoch(21,3,3) 48.4051 36.1639", transform=ax2.transAxes,
         color="#e0e0e0", fontsize=7.0, va="top", ha="left", zorder=9)

# --- oscillator window
ax3.set_ylim(-0.5, 95)
for pts in (osc_env_up, osc_env_low):
    draw(ax3, pts, "#0b6e0b", 0.8, (0, (3, 3)))
for pts in (osc_band_up, osc_band_mid, osc_band_low):
    draw(ax3, pts, "#1414ff", 2.3)
for pts in (osc_ma1, osc_ma2, osc_ma3):
    draw(ax3, pts, "#ff4a00", 0.8)
draw(ax3, osc_main, "#2ef0f0", 2.8)

# --- Yur4ik window
ax4.set_ylim(-43, 48)
h = np.array(hist)
ax4.bar(np.arange(len(h)), h, width=0.75, color=np.where(h > 0, "#1c64b0", "#c8137e"), linewidth=0)
ax4b = ax4.twinx()
ax4b.set_ylim(0, 91)
ax4b.set_yticks([])
ax4b.grid(False)
for sp in ax4b.spines.values():
    sp.set_visible(False)
draw(ax4b, yur_signal, "#fff0dc", 0.8, (0, (3, 3)))
draw(ax4b, yur_slow, "#ff5a10", 2.8)
draw(ax4b, yur_fast, "#ffdcb4", 2.8)
ax4b.set_xlim(0, (W - 1) / 4)
ax4b.text(1 / W, 1 - 2 / 92, "Yur4ik 0.206  =>MA(7) 59.308  ->MA(34) 68.513  =>MA(1) 63.672",
          transform=ax4b.transAxes, color="#e0e0e0", fontsize=7.0, va="top", ha="left", zorder=9)

fig.savefig("out.png", dpi=100, facecolor="black")
